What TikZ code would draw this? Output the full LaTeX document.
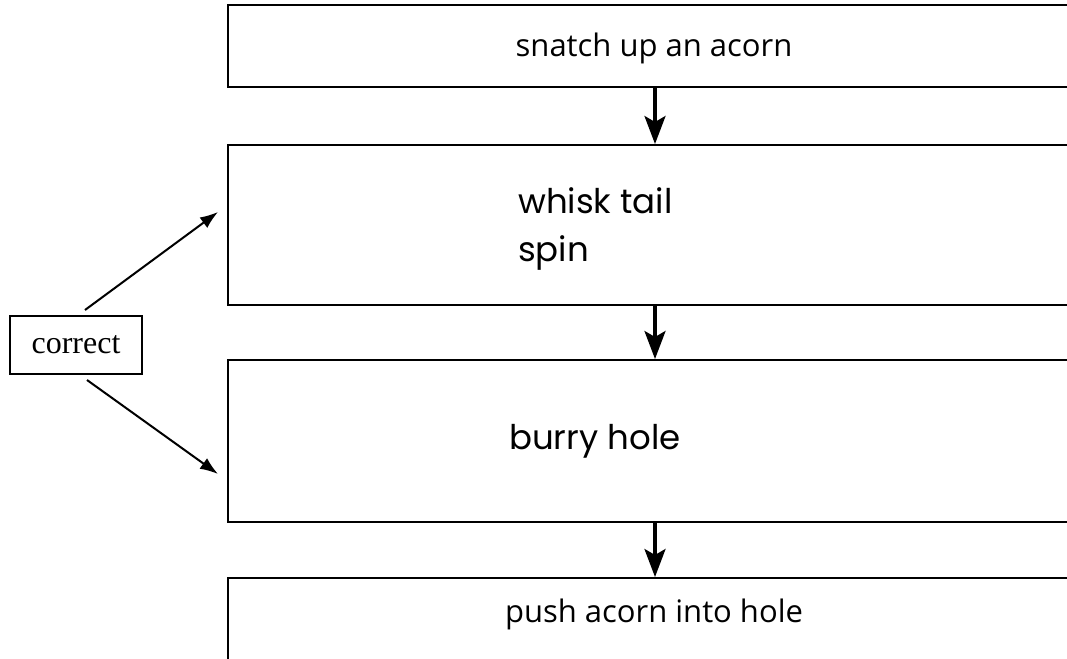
\documentclass[tikz,border=0pt]{standalone}
\usepackage{fontspec}
\setmainfont{Liberation Serif}
\newfontfamily\boxfont{Open Sans}
\newfontfamily\handfont{Poppins}
\usetikzlibrary{arrows.meta}
\begin{document}
\begin{tikzpicture}[x=1pt,y=-1pt,
  stepbox/.style={draw,line width=2pt,rectangle,minimum width=850pt,inner sep=0pt},
  lbl/.style={font=\boxfont\fontsize{31}{36}\selectfont,inner sep=0pt},
  hand/.style={font=\handfont\fontsize{34}{48}\selectfont,inner sep=0pt,align=left},
  down/.style={line width=3.3pt,-{Stealth[length=28pt,width=21pt,inset=6pt]}},
  side/.style={line width=2pt,-{Latex[length=18pt,width=13pt]}}]
\useasboundingbox (0,0) rectangle (1067,658);
\clip (0,0) rectangle (1067,658);
\node[stepbox,minimum height=82pt] (b1) at (653,46) {};
\node[stepbox,minimum height=160pt] (b2) at (653,225) {};
\node[stepbox,minimum height=162pt] (b3) at (653,441) {};
\node[stepbox,minimum height=122pt] (b4) at (653,639) {};
\node[lbl,anchor=base] (t1) at (654,57) {snatch up an acorn};
\node[hand,anchor=base west] (t2) at (518,261) {whisk tail\\spin};
\node[hand,anchor=base west] (t3) at (509,449) {burry hole};
\node[lbl,anchor=base] (t4) at (654,622) {push acorn into hole};
\node[draw,line width=2pt,minimum width=132pt,minimum height=58pt,inner sep=0pt,font=\fontsize{32}{36}\selectfont] (c) at (76,345) {correct};
\draw[down] ([xshift=2pt]b1.south) -- ([xshift=2pt]b2.north);
\draw[down] ([xshift=2pt]b2.south) -- ([xshift=2pt]b3.north);
\draw[down] ([xshift=2pt]b3.south) -- ([xshift=2pt]b4.north);
\coordinate (s1) at (85,310);
\coordinate (e1) at (218,212);
\coordinate (s2) at (87,380);
\coordinate (e2) at (218,474);
\draw[side] (s1) -- (e1);
\draw[side] (s2) -- (e2);
\end{tikzpicture}
\end{document}
